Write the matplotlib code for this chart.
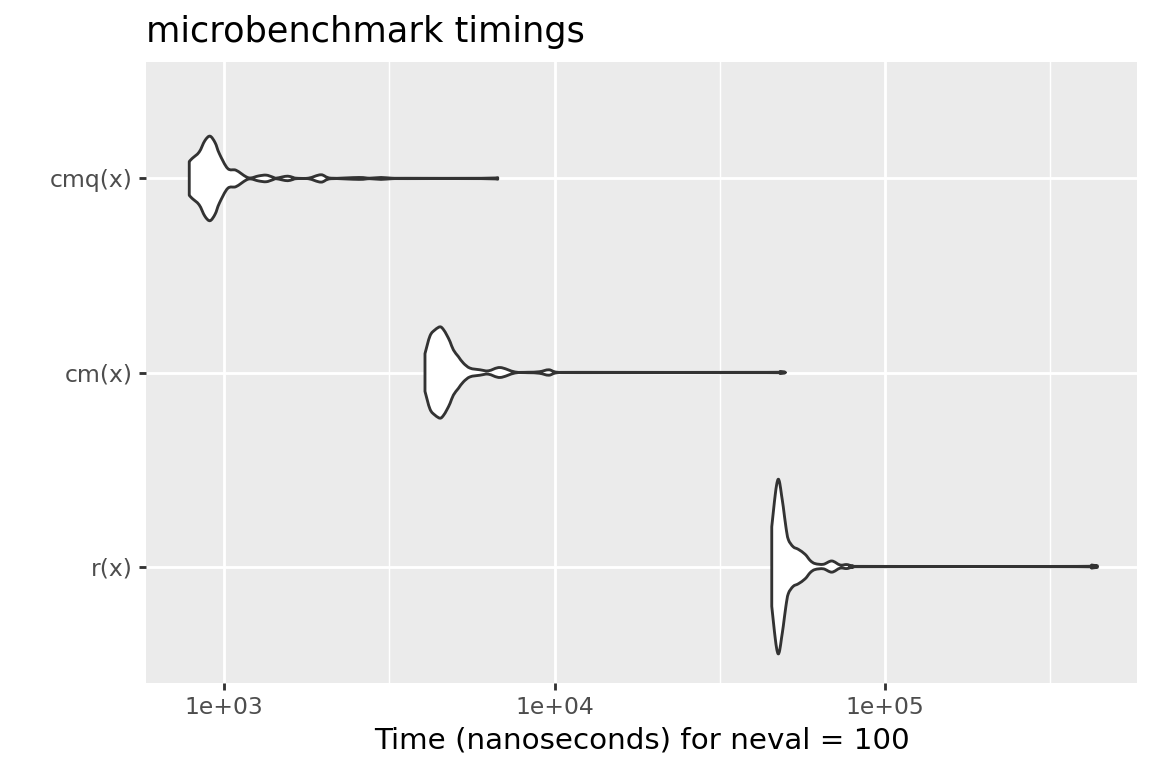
import numpy as np
import matplotlib
matplotlib.use("Agg")
import matplotlib.pyplot as plt
from matplotlib.path import Path
from matplotlib.patches import PathPatch
from matplotlib.ticker import FixedLocator, FixedFormatter, NullFormatter

# expressions, top to bottom
labels = ["cmq(x)", "cm(x)", "r(x)"]

# violin outlines: time (ns) and relative density (max = 1)
cmq_time = [785, 800, 841, 875, 907, 940, 968, 1026, 1087, 1166, 1207, 1270,
            1340, 1400, 1436, 1500, 1559, 1610, 1652, 1800, 1965, 2107, 2560,
            2760, 2985, 3220, 3600, 6000, 6730]
cmq_dens = [0.193, 0.227, 0.302, 0.432, 0.484, 0.409, 0.284, 0.114, 0.094,
            0.019, 0.006, 0.028, 0.038, 0.017, 0.003, 0.017, 0.026, 0.014,
            0.003, 0.003, 0.042, 0.003, 0.011, 0.003, 0.011, 0.003, 0.002,
            0.002, 0.009]

cm_time = [4055, 4200, 4350, 4505, 4609, 4721, 4830, 4944, 5117, 5300, 5550,
           5950, 6305, 6840, 7590, 8310, 9000, 9610, 10190, 12000, 44000,
           48100]
cm_dens = [0.216, 0.420, 0.489, 0.523, 0.493, 0.428, 0.352, 0.258, 0.182,
           0.107, 0.050, 0.031, 0.019, 0.057, 0.006, 0.003, 0.009, 0.031,
           0.003, 0.002, 0.002, 0.010]

r_time = [45400, 46000, 46500, 47000, 47500, 48000, 48600, 49200, 50100,
          50950, 52700, 54650, 57300, 59400, 61400, 65050, 68970, 73100,
          76580, 80150, 90000, 380000, 421700]
r_dens = [0.455, 0.659, 0.818, 0.943, 1.0, 0.955, 0.818, 0.682, 0.455,
          0.310, 0.227, 0.197, 0.140, 0.068, 0.034, 0.026, 0.064, 0.018,
          0.023, 0.006, 0.002, 0.002, 0.018]

times = [cmq_time, cm_time, r_time]
dens = [cmq_dens, cm_dens, r_dens]
positions = [3, 2, 1]


def smooth_segments(px, py):
    # catmull-rom through the points, as cubic bezier control points
    verts = []
    n = len(px)
    for i in range(n - 1):
        i0 = max(i - 1, 0)
        i3 = min(i + 2, n - 1)
        c1 = (px[i] + (px[i + 1] - px[i0]) / 6, py[i] + (py[i + 1] - py[i0]) / 6)
        c2 = (px[i + 1] - (px[i3] - px[i]) / 6, py[i + 1] - (py[i3] - py[i]) / 6)
        verts += [c1, c2, (px[i + 1], py[i + 1])]
    return verts


fig = plt.figure(figsize=(6, 4), dpi=192)
ax = fig.add_axes([146 / 1152, 1 - 683 / 768, (1137 - 146) / 1152, (683 - 62) / 768])
ax.set_facecolor("#EBEBEB")
for s in ax.spines.values():
    s.set_visible(False)

ax.set_xscale("log")
ax.set_xlim(10 ** 2.764, 10 ** 5.762)
ax.set_ylim(0.4, 3.6)

ax.xaxis.set_major_locator(FixedLocator([1e3, 1e4, 1e5]))
ax.xaxis.set_major_formatter(FixedFormatter(["1e+03", "1e+04", "1e+05"]))
ax.xaxis.set_minor_locator(FixedLocator([10 ** 3.5, 10 ** 4.5, 10 ** 5.5]))
ax.xaxis.set_minor_formatter(NullFormatter())
ax.set_yticks(positions)
ax.set_yticklabels(labels)

ax.grid(which="major", color="white", linewidth=1.07)
ax.grid(which="minor", axis="x", color="white", linewidth=0.53)
ax.set_axisbelow(True)
ax.tick_params(which="major", length=2.75, width=1.07, color="#333333",
               labelsize=8.8, labelcolor="#4D4D4D", pad=2.2)
ax.tick_params(which="minor", length=0)

for t, d, p in zip(times, dens, positions):
    lt = np.log10(np.array(t, dtype=float))
    w = 0.45 * np.array(d)
    up = smooth_segments(lt, p + w)
    lo = smooth_segments(lt[::-1], (p - w)[::-1])
    verts = [(lt[0], p + w[0])] + up + [(lt[-1], p - w[-1])] + lo + [(lt[0], p + w[0])]
    codes = ([Path.MOVETO] + [Path.CURVE4] * len(up) + [Path.LINETO]
             + [Path.CURVE4] * len(lo) + [Path.CLOSEPOLY])
    verts = [(10 ** vx, vy) for vx, vy in verts]
    ax.add_patch(PathPatch(Path(verts, codes), facecolor="white", edgecolor="#333333",
                           linewidth=1.07, joinstyle="round", zorder=3))

fig.text(146 / 1152, 1 - 41.7 / 768, "microbenchmark timings", fontsize=13.2,
         ha="left", va="baseline", color="black")
fig.text(641.5 / 1152, 1 - 748 / 768, "Time (nanoseconds) for neval = 100",
         fontsize=11, ha="center", va="baseline", color="black")

fig.savefig("out.png", dpi=192, facecolor="white")
